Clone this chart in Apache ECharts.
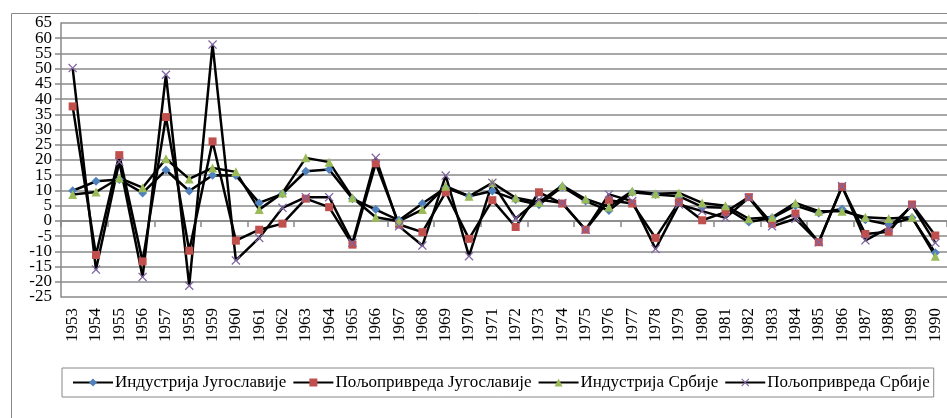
<!DOCTYPE html>
<html>
<head>
<meta charset="utf-8">
<script src="https://cdn.jsdelivr.net/npm/echarts@6/dist/echarts.min.js"></script>
<style>html,body{margin:0;padding:0;background:#fff;}#c{width:947px;height:418px;}</style>
</head>
<body>
<div id="c"></div>
<script>
var years = ['1953','1954','1955','1956','1957','1958','1959','1960','1961','1962','1963','1964','1965','1966','1967','1968','1969','1970','1971','1972','1973','1974','1975','1976','1977','1978','1979','1980','1981','1982','1983','1984','1985','1986','1987','1988','1989','1990'];
var names = ['Индустрија Југославије','Пољопривреда Југославије','Индустрија Србије','Пољопривреда Србије'];
var indYu = [9.9, 13.0, 13.6, 9.2, 16.7, 9.8, 15.0, 14.9, 5.9, 8.9, 16.3, 16.9, 7.3, 3.7, 0.2, 5.7, 10.9, 8.1, 9.8, 7.0, 5.3, 11.2, 6.5, 3.4, 9.4, 8.7, 8.1, 4.6, 4.3, -0.4, 1.0, 5.0, 2.6, 3.9, 0.4, -1.2, 1.0, -10.5];
var agrYu = [37.6, -11.2, 21.6, -13.3, 34.1, -9.8, 26.1, -6.5, -2.9, -0.9, 7.3, 4.5, -7.8, 18.9, -1.2, -3.7, 9.4, -5.9, 6.8, -2.0, 9.4, 5.7, -2.9, 6.8, 5.7, -5.6, 6.1, 0.2, 2.9, 7.8, -0.9, 2.4, -7.0, 11.2, -4.3, -3.6, 5.4, -4.8];
var indSr = [8.7, 9.5, 14.1, 10.9, 20.4, 13.8, 17.4, 16.1, 3.7, 9.2, 20.7, 19.3, 7.6, 1.2, -0.1, 3.7, 11.4, 8.1, 12.5, 7.6, 6.1, 11.6, 7.2, 4.6, 9.8, 8.9, 9.2, 5.9, 5.0, 0.7, 1.2, 5.9, 3.2, 3.2, 1.2, 0.8, 1.2, -11.6];
var agrSr = [50.2, -16.0, 19.4, -18.4, 48.0, -21.3, 57.9, -13.0, -5.6, 4.3, 7.8, 7.8, -7.2, 20.7, -1.8, -8.1, 14.9, -11.6, 12.5, 0.8, 7.0, 5.9, -2.9, 8.7, 6.5, -9.2, 5.4, 3.2, 1.0, 7.6, -1.8, 0.7, -7.0, 11.4, -6.4, -2.3, 5.0, -7.2];
var yMin = -25, yMax = 65, yStep = 5;

var FONT = '"Liberation Serif", "DejaVu Serif", serif';
var XSYM = 'path://M0,1 L1,0 L5,4 L9,0 L10,1 L6,5 L10,9 L9,10 L5,6 L1,10 L0,9 L4,5 Z';

function mk(name, data, color, symbol, size) {
  return {
    name: name, type: 'line', data: data, xAxisIndex: 0, yAxisIndex: 0,
    symbol: symbol, symbolSize: size, showAllSymbol: true,
    lineStyle: { color: '#000', width: 2.5 },
    itemStyle: { color: color },
    emphasis: { disabled: true },
    animation: false
  };
}
var yLabelStyle = { margin: 9, fontSize: 17, fontFamily: FONT, color: '#000' };

var chart = echarts.init(document.getElementById('c'));
chart.setOption({
  animation: false,
  backgroundColor: '#fff',
  graphic: [{
    type: 'rect', left: 9, top: 11,
    shape: { width: 1000, height: 1000 },
    style: { fill: 'none', stroke: '#888', lineWidth: 1 },
    silent: true, z: -10
  }],
  grid: { left: 61, right: -2, top: 23, bottom: 121, containLabel: false },
  legend: {
    data: names, left: 62, top: 368, width: 884,
    borderColor: '#888', borderWidth: 1, padding: [6, 4, 6, 10],
    itemWidth: 40, itemHeight: 10, itemGap: 6,
    textStyle: { fontSize: 17, fontFamily: FONT, color: '#000', padding: [0, 0, 0, -3] }
  },
  xAxis: [{
    type: 'category', data: years, boundaryGap: true,
    axisLine: { show: true, onZero: true, onZeroAxisIndex: 0, lineStyle: { color: '#888', width: 1.5 } },
    axisTick: { show: true, length: 6, lineStyle: { color: '#888', width: 1.5 } },
    axisLabel: { show: false },
    splitLine: { show: false }
  }, {
    type: 'category', data: years, boundaryGap: true, position: 'bottom',
    axisLine: { show: false, onZero: false },
    axisTick: { show: false },
    axisLabel: { show: true, interval: 0, rotate: 90, margin: 11, fontSize: 17, fontFamily: FONT, color: '#000' },
    splitLine: { show: false }
  }],
  yAxis: [{
    type: 'value', min: yMin, max: yMax, interval: yStep, position: 'left',
    axisLine: { show: true, lineStyle: { color: '#888', width: 1.5 } },
    axisTick: { show: true, length: 6, lineStyle: { color: '#888', width: 1.5 } },
    axisLabel: Object.assign({ showMinLabel: false, showMaxLabel: false }, yLabelStyle),
    splitLine: { show: true, lineStyle: { color: '#8a8a8a', width: 1.5 } }
  }, {
    type: 'value', min: yMin, max: yMax, interval: yStep, position: 'left', offset: 0,
    axisLine: { show: false }, axisTick: { show: false }, splitLine: { show: false },
    axisLabel: Object.assign({
      showMinLabel: true, showMaxLabel: true,
      formatter: function (v) { return (v === yMin || v === yMax) ? String(v) : ''; }
    }, yLabelStyle)
  }],
  series: [
    mk(names[0], indYu, '#4F81BD', 'diamond', 9),
    mk(names[1], agrYu, '#C0504D', 'rect', 8),
    mk(names[2], indSr, '#9BBB59', 'triangle', 9),
    mk(names[3], agrSr, '#8064A2', XSYM, 9)
  ]
});
</script>
</body>
</html>
